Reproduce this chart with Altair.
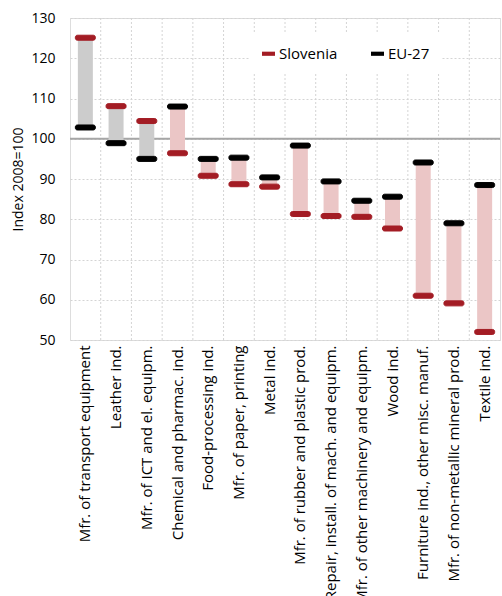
import altair as alt
import pandas as pd

categories = [
    "Mfr. of transport equipment",
    "Leather ind.",
    "Mfr. of ICT and el. equipm.",
    "Chemical and pharmac. ind.",
    "Food-processing ind.",
    "Mfr. of paper, printing",
    "Metal ind.",
    "Mfr. of rubber and plastic prod.",
    "Repair, install. of mach. and equipm.",
    "Mfr. of other machinery and equipm.",
    "Wood ind.",
    "Furniture ind., other misc. manuf.",
    "Mfr. of non-metallic mineral prod.",
    "Textile ind.",
]
slovenia = [125.1, 108.1, 104.4, 96.4, 90.8, 88.7, 88.1, 81.3, 80.8, 80.6, 77.7, 61.0, 59.1, 52.0]
eu27 = [102.8, 98.9, 95.0, 108.0, 95.0, 95.3, 90.4, 98.3, 89.4, 84.6, 85.6, 94.1, 79.0, 88.5]
y_ticks = [50, 60, 70, 80, 90, 100, 110, 120, 130]

FONT = "Open Sans"
RED = "#a31c24"

rng = pd.DataFrame({
    "cat": categories,
    "lo": [min(a, b) for a, b in zip(slovenia, eu27)],
    "hi": [max(a, b) for a, b in zip(slovenia, eu27)],
    "up": ["up" if s > e else "down" for s, e in zip(slovenia, eu27)],
})
pts = pd.DataFrame({
    "cat": categories * 2,
    "series": ["Slovenia"] * len(categories) + ["EU-27"] * len(categories),
    "value": slovenia + eu27,
})
grid_df = pd.DataFrame({"cat": categories[1:]})
ref_df = pd.DataFrame({"y": [100]})

xscale = alt.Scale(domain=categories, paddingInner=0, paddingOuter=0)
yscale = alt.Scale(domain=[50, 130], nice=False)

x_axis = alt.Axis(
    title=None, labelAngle=-90, labelFont=FONT, labelFontSize=15,
    labelColor="#000000", ticks=False, domain=False, grid=False,
    labelPadding=5, labelLimit=400,
)
y_axis = alt.Axis(
    title="Index 2008=100", titleFont=FONT, titleFontSize=14,
    titleFontWeight="normal", titleColor="#000000", titlePadding=5,
    values=y_ticks, labelFont=FONT, labelFontSize=14, labelColor="#000000",
    labelPadding=15, ticks=False, domain=False,
    grid=True, gridColor="#d4d4d4", gridDash=[2, 2], gridWidth=1,
)

vgrid = alt.Chart(grid_df).mark_rule(color="#d4d4d4", strokeDash=[2, 2], strokeWidth=1).encode(
    x=alt.X("cat:N", scale=xscale, axis=x_axis, sort=categories, bandPosition=0),
)

ref = alt.Chart(ref_df).mark_rule(color="#a6a6a6", strokeWidth=2).encode(
    y=alt.Y("y:Q", scale=yscale, axis=y_axis),
)

bars = alt.Chart(rng).mark_bar(width=15).encode(
    x=alt.X("cat:N", scale=xscale, sort=categories),
    y=alt.Y("lo:Q", scale=yscale),
    y2="hi:Q",
    color=alt.Color("up:N", scale=alt.Scale(domain=["up", "down"], range=["#cccccc", "#ebc6c6"]), legend=None),
)

ticks = alt.Chart(pts).mark_tick(thickness=5, size=20, cornerRadius=2, opacity=1).encode(
    x=alt.X("cat:N", scale=xscale, sort=categories),
    y=alt.Y("value:Q", scale=yscale),
    stroke=alt.Stroke(
        "series:N",
        scale=alt.Scale(domain=["Slovenia", "EU-27"], range=[RED, "#000000"]),
        legend=None,
    ),
    fill=alt.Fill(
        "series:N",
        scale=alt.Scale(domain=["Slovenia", "EU-27"], range=[RED, "#000000"]),
        legend=alt.Legend(
            title=None, orient="none", legendX=179, legendY=16, direction="horizontal",
            labelFont=FONT, labelFontSize=15, labelColor="#000000",
            symbolType="M-1,-0.32H1V0.32H-1Z", symbolSize=169, symbolStrokeWidth=0,
            fillColor="#ffffff", padding=12, columnPadding=32, labelOffset=3,
        ),
    ),
)

chart = alt.layer(vgrid, ref, bars, ticks).properties(
    width=430, height=322,
    autosize=alt.AutoSizeParams(type="none"),
    padding={"left": 70, "top": 18, "right": 2, "bottom": 256},
).configure_view(stroke="#bfbfbf", strokeWidth=1.5).configure(background="#ffffff")

chart.save("out.html", embed_options={"renderer": "svg", "actions": False})
